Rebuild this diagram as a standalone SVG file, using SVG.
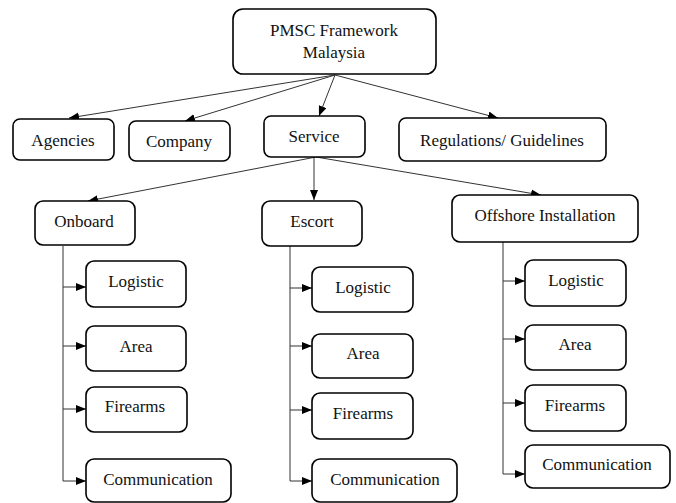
<svg xmlns="http://www.w3.org/2000/svg" width="676" height="503" viewBox="0 0 676 503">
<style>
.box{fill:#fff;stroke:#000;stroke-width:1.6}
text{font-family:'Liberation Serif','DejaVu Serif',serif;font-size:17px;fill:#111;text-anchor:middle}
.c{fill:none;stroke:#333;stroke-width:1}
</style>
<defs>
<marker id="ah" markerUnits="userSpaceOnUse" markerWidth="11" markerHeight="9" refX="10" refY="4" orient="auto">
<path d="M0,0 L10,4 L0,8 z" fill="#000"/>
</marker>
</defs>
<rect width="676" height="503" fill="#fff"/>
<g id="connectors">
<line class="c" x1="335" y1="75" x2="69" y2="118" marker-end="url(#ah)"/>
<line class="c" x1="335" y1="75" x2="185" y2="121" marker-end="url(#ah)"/>
<line class="c" x1="335" y1="75" x2="319" y2="116" marker-end="url(#ah)"/>
<line class="c" x1="335" y1="75" x2="498" y2="118" marker-end="url(#ah)"/>
<line class="c" x1="316" y1="157" x2="88" y2="201" marker-end="url(#ah)"/>
<line class="c" x1="314" y1="157" x2="314" y2="200" marker-end="url(#ah)"/>
<line class="c" x1="316" y1="157" x2="541" y2="195" marker-end="url(#ah)"/>
<polyline class="c" points="63,246 63,481 86,481" marker-end="url(#ah)"/>
<line class="c" x1="63" y1="287" x2="86" y2="287" marker-end="url(#ah)"/>
<line class="c" x1="63" y1="346" x2="86" y2="346" marker-end="url(#ah)"/>
<line class="c" x1="63" y1="409" x2="86" y2="409" marker-end="url(#ah)"/>
<polyline class="c" points="290,246 290,481 312,481" marker-end="url(#ah)"/>
<line class="c" x1="290" y1="288" x2="312" y2="288" marker-end="url(#ah)"/>
<line class="c" x1="290" y1="346" x2="312" y2="346" marker-end="url(#ah)"/>
<line class="c" x1="290" y1="410" x2="312" y2="410" marker-end="url(#ah)"/>
<polyline class="c" points="503,242 503,474 525,474" marker-end="url(#ah)"/>
<line class="c" x1="503" y1="281" x2="525" y2="281" marker-end="url(#ah)"/>
<line class="c" x1="503" y1="339" x2="525" y2="339" marker-end="url(#ah)"/>
<line class="c" x1="503" y1="403" x2="525" y2="403" marker-end="url(#ah)"/>
</g>
<g id="root"><rect class="box" x="233" y="9" width="203" height="65" rx="10"/><text x="334" y="36">PMSC Framework</text><text x="334" y="58">Malaysia</text></g>
<g id="agencies"><rect class="box" x="13" y="119" width="101" height="41" rx="7"/><text x="63" y="146">Agencies</text></g>
<g id="company"><rect class="box" x="129" y="121" width="101" height="40" rx="7"/><text x="179" y="147">Company</text></g>
<g id="service"><rect class="box" x="264" y="116" width="101" height="41" rx="7"/><text x="314" y="142">Service</text></g>
<g id="regulations"><rect class="box" x="399" y="118" width="207" height="43" rx="7"/><text x="502" y="146">Regulations/ Guidelines</text></g>
<g id="onboard"><rect class="box" x="35" y="201" width="100" height="44" rx="8"/><text x="84" y="227">Onboard</text></g>
<g id="escort"><rect class="box" x="262" y="201" width="100" height="45" rx="8"/><text x="312" y="227">Escort</text></g>
<g id="offshore"><rect class="box" x="452" y="195" width="186" height="47" rx="8"/><text x="545" y="221">Offshore Installation</text></g>
<g id="ob-logistic"><rect class="box" x="86" y="261" width="100" height="46" rx="8"/><text x="136" y="287">Logistic</text></g>
<g id="ob-area"><rect class="box" x="86" y="326" width="100" height="45" rx="8"/><text x="136" y="352">Area</text></g>
<g id="ob-firearms"><rect class="box" x="86" y="387" width="101" height="45" rx="8"/><text x="135" y="412">Firearms</text></g>
<g id="ob-comm"><rect class="box" x="86" y="459" width="145" height="43" rx="8"/><text x="158" y="485">Communication</text></g>
<g id="es-logistic"><rect class="box" x="312" y="267" width="101" height="45" rx="8"/><text x="363" y="293">Logistic</text></g>
<g id="es-area"><rect class="box" x="312" y="334" width="101" height="44" rx="8"/><text x="363" y="359">Area</text></g>
<g id="es-firearms"><rect class="box" x="312" y="393" width="101" height="46" rx="8"/><text x="363" y="419">Firearms</text></g>
<g id="es-comm"><rect class="box" x="312" y="459" width="145" height="43" rx="8"/><text x="385" y="485">Communication</text></g>
<g id="of-logistic"><rect class="box" x="525" y="260" width="101" height="46" rx="8"/><text x="576" y="286">Logistic</text></g>
<g id="of-area"><rect class="box" x="525" y="325" width="101" height="45" rx="8"/><text x="575" y="350">Area</text></g>
<g id="of-firearms"><rect class="box" x="525" y="385" width="101" height="46" rx="8"/><text x="575" y="411">Firearms</text></g>
<g id="of-comm"><rect class="box" x="525" y="445" width="145" height="43" rx="8"/><text x="597" y="470">Communication</text></g>
</svg>
